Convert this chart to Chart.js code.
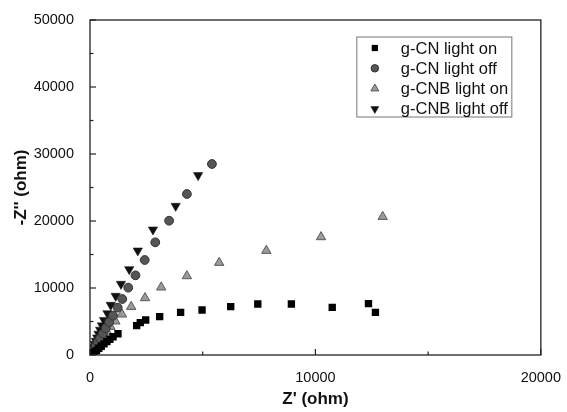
<!DOCTYPE html>
<html>
<head>
<meta charset="utf-8">
<script src="https://cdn.jsdelivr.net/npm/chart.js@4.4.1/dist/chart.umd.min.js"></script>
<style>
  html, body { margin: 0; padding: 0; background: #fff; }
  #wrap { width: 567px; height: 412px; position: relative; }
</style>
</head>
<body>
<div id="wrap"><canvas id="c"></canvas></div>
<script>
// ---- data (Z' in ohm, -Z'' in ohm) ----
const seriesNames = ["g-CN light on", "g-CN light off", "g-CNB light on", "g-CNB light off"];

const cnOnX  = [60, 120, 200, 290, 390, 500, 620, 750, 880, 1023, 1241, 2070, 2230, 2470, 3090, 4020, 4971, 6242, 7443, 8934, 10746, 12354, 12662];
const cnOnY  = [100, 250, 450, 700, 1000, 1300, 1650, 2000, 2350, 2731, 3179, 4390, 4840, 5230, 5730, 6370, 6716, 7213, 7612, 7612, 7114, 7663, 6368];

const cnOffX = [50, 110, 180, 260, 350, 450, 570, 700, 850, 1023, 1228, 1433, 1696, 2018, 2427, 2895, 3509, 4298, 5409];
const cnOffY = [200, 500, 900, 1350, 1900, 2500, 3200, 4000, 4900, 5866, 7064, 8358, 10050, 11893, 14179, 16820, 20045, 24030, 28506];

const cnbOnX = [50, 100, 160, 230, 310, 400, 500, 620, 750, 906, 1126, 1418, 1827, 2441, 3158, 4298, 5731, 7822, 10249, 12983];
const cnbOnY = [150, 350, 600, 900, 1300, 1750, 2250, 2850, 3500, 4224, 5030, 6074, 7209, 8507, 10104, 11791, 13781, 15573, 17612, 20642];

const cnbOffX = [30, 70, 110, 160, 210, 260, 320, 380, 450, 530, 620, 775, 921, 1140, 1374, 1740, 2120, 2793, 3801, 4796];
const cnbOffY = [150, 450, 800, 1200, 1650, 2100, 2600, 3150, 3750, 4400, 5200, 6218, 7463, 8806, 10597, 12786, 15573, 18706, 22238, 26823];

const xTicks = [0, 10000, 20000];
const yTicks = [0, 10000, 20000, 30000, 40000, 50000];

function pts(xs, ys) { return xs.map((x, i) => ({ x: x, y: ys[i] })); }

const FONT = "'Liberation Sans', Arial, Helvetica, sans-serif";

const styles = [
  { pointStyle: 'rect', radius: 5.2, bg: '#000000', border: '#000000', bw: 0, rot: 0 },
  { pointStyle: 'circle', radius: 4.4, bg: '#555555', border: '#333333', bw: 1, rot: 0 },
  { pointStyle: 'triangle', radius: 5.4, bg: '#9a9a9a', border: '#5a5a5a', bw: 1, rot: 0 },
  { pointStyle: 'triangle', radius: 5.4, bg: '#111111', border: '#111111', bw: 0.5, rot: 180 }
];

const dataArr = [pts(cnOnX, cnOnY), pts(cnOffX, cnOffY), pts(cnbOnX, cnbOnY), pts(cnbOffX, cnbOffY)];

const datasets = dataArr.map((d, i) => ({
  label: seriesNames[i],
  data: d,
  pointStyle: styles[i].pointStyle,
  pointRadius: styles[i].radius,
  pointHoverRadius: styles[i].radius,
  pointRotation: styles[i].rot,
  backgroundColor: styles[i].bg,
  borderColor: styles[i].border,
  pointBorderWidth: styles[i].bw,
  showLine: false
}));

// frame + inward ticks + legend box
const framePlugin = {
  id: 'frame',
  afterDraw(chart) {
    const ctx = chart.ctx;
    const a = chart.chartArea;
    const xs = chart.scales.x, ys = chart.scales.y;
    ctx.save();
    ctx.strokeStyle = '#222';
    ctx.lineWidth = 1.3;
    ctx.strokeRect(a.left, a.top, a.right - a.left, a.bottom - a.top);
    ctx.lineWidth = 1.2;
    for (let v = 0; v <= 20000; v += 5000) {
      const px = xs.getPixelForValue(v);
      const len = (v % 10000 === 0) ? 6 : 3.5;
      ctx.beginPath(); ctx.moveTo(px, a.bottom); ctx.lineTo(px, a.bottom - len); ctx.stroke();
    }
    for (let v = 0; v <= 50000; v += 5000) {
      const py = ys.getPixelForValue(v);
      const len = (v % 10000 === 0) ? 6 : 3.5;
      ctx.beginPath(); ctx.moveTo(a.left, py); ctx.lineTo(a.left + len, py); ctx.stroke();
    }
    // legend
    const bx = a.right - 184, by = a.top + 17, bw = 155, bh = 80;
    ctx.fillStyle = '#fff';
    ctx.fillRect(bx, by, bw, bh);
    ctx.strokeStyle = '#777';
    ctx.lineWidth = 1;
    ctx.strokeRect(bx, by, bw, bh);
    ctx.font = '16.5px ' + FONT;
    ctx.textBaseline = 'middle';
    ctx.textAlign = 'left';
    chart.data.datasets.forEach((ds, i) => {
      const cy = by + 11 + i * 20.3;
      const st = styles[i];
      ctx.fillStyle = st.bg;
      ctx.strokeStyle = st.border;
      ctx.lineWidth = st.bw;
      Chart.helpers.drawPoint(ctx, { pointStyle: st.pointStyle, radius: st.radius * 0.85, rotation: st.rot, borderWidth: st.bw }, bx + 18, cy);
      ctx.fillStyle = '#111';
      ctx.fillText(ds.label, bx + 44, cy + 1);
    });
    ctx.restore();
  }
};

new Chart(document.getElementById('c'), {
  type: 'scatter',
  data: { datasets: datasets },
  options: {
    responsive: true,
    maintainAspectRatio: false,
    animation: false,
    layout: { padding: { left: 0, top: 20, right: 22, bottom: 0 } },
    plugins: { legend: { display: false }, tooltip: { enabled: false } },
    scales: {
      x: {
        type: 'linear', min: 0, max: 20000,
        afterBuildTicks: s => { s.ticks = xTicks.map(v => ({ value: v })); },
        afterFit: s => { s.height = 57; },
        grid: { display: false },
        border: { display: false },
        ticks: { color: '#111', padding: 6, maxRotation: 0, font: { family: FONT, size: 14.5 }, callback: v => String(v) },
        title: { display: true, text: "Z' (ohm)", color: '#111', padding: { top: 0, bottom: 2 }, font: { family: FONT, size: 17, weight: 'bold' } }
      },
      y: {
        type: 'linear', min: 0, max: 50000,
        afterBuildTicks: s => { s.ticks = yTicks.map(v => ({ value: v })); },
        afterFit: s => { s.width = 90; },
        grid: { display: false },
        border: { display: false },
        ticks: { color: '#111', padding: 8, font: { family: FONT, size: 14.5 }, callback: v => String(v) },
        title: { display: true, text: "-Z'' (ohm)", color: '#111', padding: { top: 11, bottom: 0 }, font: { family: FONT, size: 17, weight: 'bold' } }
      }
    }
  },
  plugins: [framePlugin]
});
</script>
</body>
</html>
